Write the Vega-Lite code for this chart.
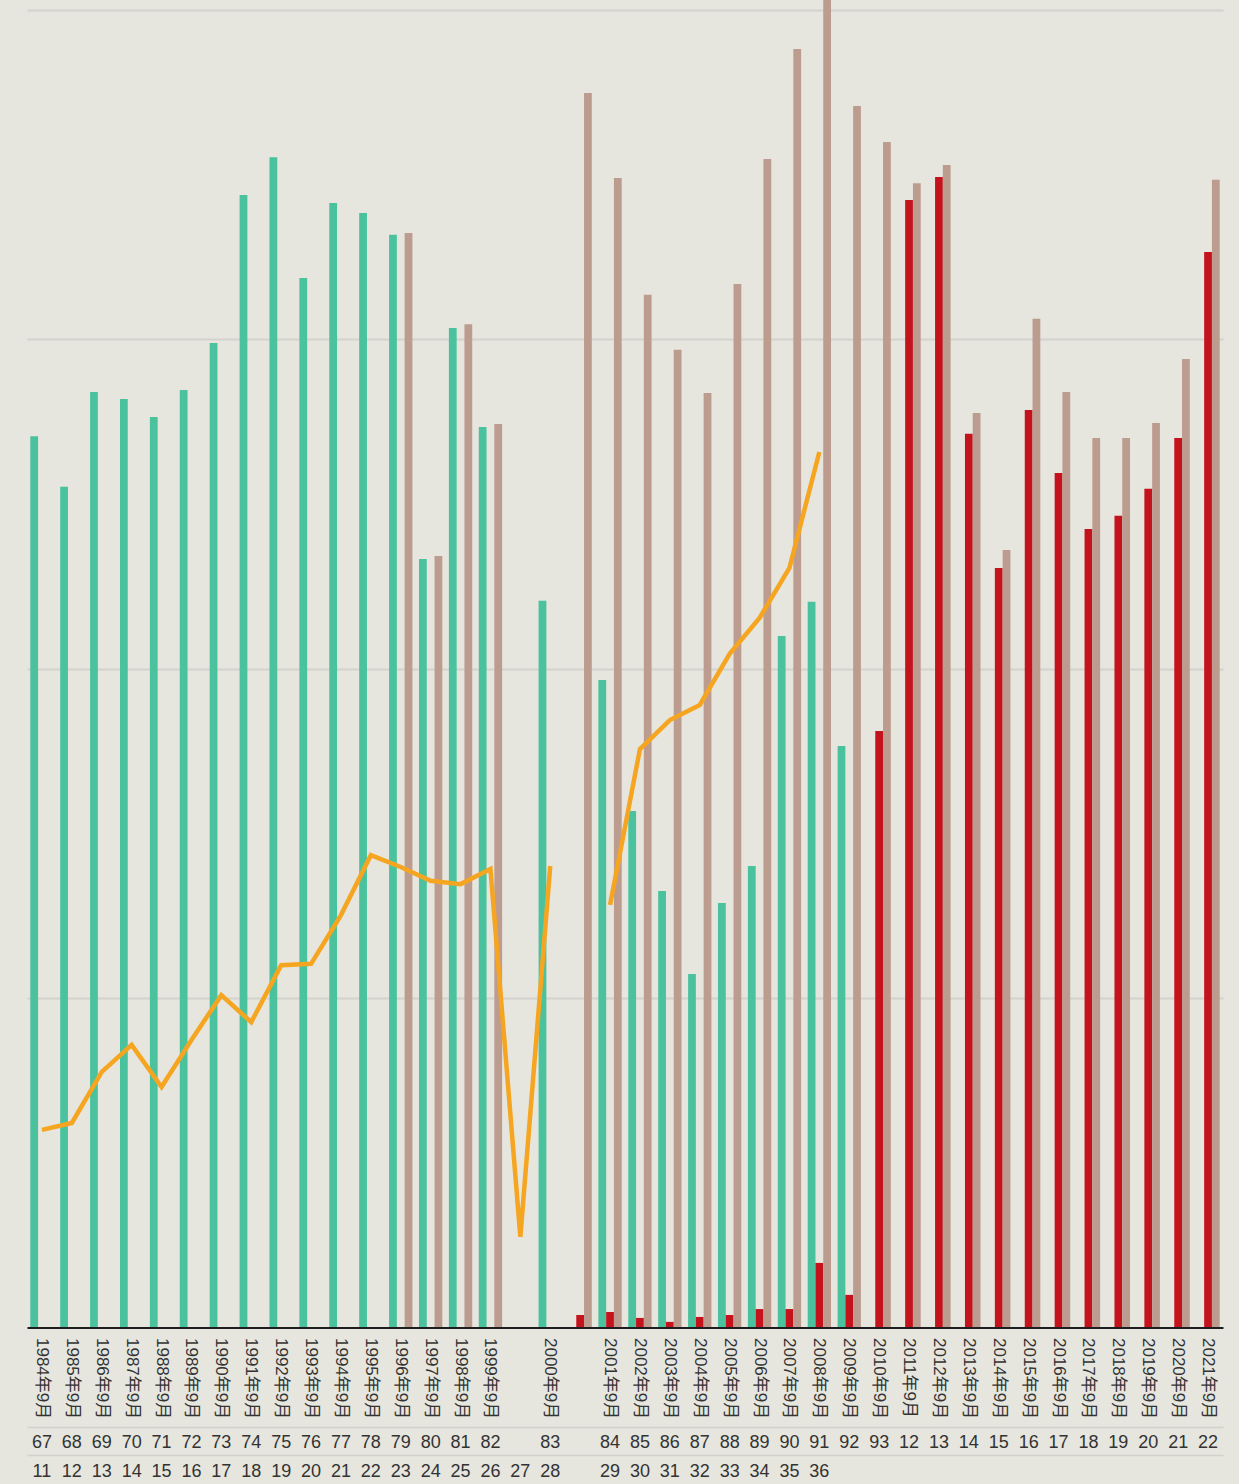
{
  "$schema": "https://vega.github.io/schema/vega-lite/v6.json",
  "width": 1196,
  "height": 1327.5,
  "autosize": {"type": "none"},
  "padding": {"left": 27, "top": 0, "right": 16, "bottom": 156.5},
  "background": "#e6e5de",
  "config": {
    "view": {"stroke": null},
    "font": "Liberation Sans, Noto Sans CJK JP, sans-serif",
    "axis": {"labelFont": "Liberation Sans, Noto Sans CJK JP, sans-serif"}
  },
  "datasets": {
    "bars": [
      {"key": "1984年9月|67|11", "series": "g", "v": 2.706},
      {"key": "1985年9月|68|12", "series": "g", "v": 2.552},
      {"key": "1986年9月|69|13", "series": "g", "v": 2.840},
      {"key": "1987年9月|70|14", "series": "g", "v": 2.819},
      {"key": "1988年9月|71|15", "series": "g", "v": 2.764},
      {"key": "1989年9月|72|16", "series": "g", "v": 2.846},
      {"key": "1990年9月|73|17", "series": "g", "v": 2.989},
      {"key": "1991年9月|74|18", "series": "g", "v": 3.438},
      {"key": "1992年9月|75|19", "series": "g", "v": 3.553},
      {"key": "1993年9月|76|20", "series": "g", "v": 3.186},
      {"key": "1994年9月|77|21", "series": "g", "v": 3.414},
      {"key": "1995年9月|78|22", "series": "g", "v": 3.383},
      {"key": "1996年9月|79|23", "series": "g", "v": 3.317},
      {"key": "1996年9月|79|23", "series": "b", "v": 3.323},
      {"key": "1997年9月|80|24", "series": "g", "v": 2.333},
      {"key": "1997年9月|80|24", "series": "b", "v": 2.342},
      {"key": "1998年9月|81|25", "series": "g", "v": 3.034},
      {"key": "1998年9月|81|25", "series": "b", "v": 3.046},
      {"key": "1999年9月|82|26", "series": "g", "v": 2.734},
      {"key": "1999年9月|82|26", "series": "b", "v": 2.743},
      {"key": "2000年9月|83|28", "series": "g", "v": 2.206},
      {"key": "||", "series": "r", "v": 0.038},
      {"key": "||", "series": "b", "v": 3.748},
      {"key": "2001年9月|84|29", "series": "g", "v": 1.966},
      {"key": "2001年9月|84|29", "series": "r", "v": 0.047},
      {"key": "2001年9月|84|29", "series": "b", "v": 3.490},
      {"key": "2002年9月|85|30", "series": "g", "v": 1.568},
      {"key": "2002年9月|85|30", "series": "r", "v": 0.029},
      {"key": "2002年9月|85|30", "series": "b", "v": 3.135},
      {"key": "2003年9月|86|31", "series": "g", "v": 1.325},
      {"key": "2003年9月|86|31", "series": "r", "v": 0.017},
      {"key": "2003年9月|86|31", "series": "b", "v": 2.968},
      {"key": "2004年9月|87|32", "series": "g", "v": 1.073},
      {"key": "2004年9月|87|32", "series": "r", "v": 0.032},
      {"key": "2004年9月|87|32", "series": "b", "v": 2.837},
      {"key": "2005年9月|88|33", "series": "g", "v": 1.289},
      {"key": "2005年9月|88|33", "series": "r", "v": 0.038},
      {"key": "2005年9月|88|33", "series": "b", "v": 3.168},
      {"key": "2006年9月|89|34", "series": "g", "v": 1.401},
      {"key": "2006年9月|89|34", "series": "r", "v": 0.056},
      {"key": "2006年9月|89|34", "series": "b", "v": 3.547},
      {"key": "2007年9月|90|35", "series": "g", "v": 2.099},
      {"key": "2007年9月|90|35", "series": "r", "v": 0.056},
      {"key": "2007年9月|90|35", "series": "b", "v": 3.881},
      {"key": "2008年9月|91|36", "series": "g", "v": 2.203},
      {"key": "2008年9月|91|36", "series": "r", "v": 0.196},
      {"key": "2008年9月|91|36", "series": "b", "v": 4.100},
      {"key": "2009年9月|92|", "series": "g", "v": 1.765},
      {"key": "2009年9月|92|", "series": "r", "v": 0.099},
      {"key": "2009年9月|92|", "series": "b", "v": 3.708},
      {"key": "2010年9月|93|", "series": "r", "v": 1.811},
      {"key": "2010年9月|93|", "series": "b", "v": 3.599},
      {"key": "2011年9月|12|", "series": "r", "v": 3.423},
      {"key": "2011年9月|12|", "series": "b", "v": 3.474},
      {"key": "2012年9月|13|", "series": "r", "v": 3.493},
      {"key": "2012年9月|13|", "series": "b", "v": 3.529},
      {"key": "2013年9月|14|", "series": "r", "v": 2.713},
      {"key": "2013年9月|14|", "series": "b", "v": 2.776},
      {"key": "2014年9月|15|", "series": "r", "v": 2.306},
      {"key": "2014年9月|15|", "series": "b", "v": 2.360},
      {"key": "2015年9月|16|", "series": "r", "v": 2.785},
      {"key": "2015年9月|16|", "series": "b", "v": 3.062},
      {"key": "2016年9月|17|", "series": "r", "v": 2.594},
      {"key": "2016年9月|17|", "series": "b", "v": 2.840},
      {"key": "2017年9月|18|", "series": "r", "v": 2.424},
      {"key": "2017年9月|18|", "series": "b", "v": 2.700},
      {"key": "2018年9月|19|", "series": "r", "v": 2.464},
      {"key": "2018年9月|19|", "series": "b", "v": 2.700},
      {"key": "2019年9月|20|", "series": "r", "v": 2.546},
      {"key": "2019年9月|20|", "series": "b", "v": 2.746},
      {"key": "2020年9月|21|", "series": "r", "v": 2.700},
      {"key": "2020年9月|21|", "series": "b", "v": 2.940},
      {"key": "2021年9月|22|", "series": "r", "v": 3.265},
      {"key": "2021年9月|22|", "series": "b", "v": 3.484}
    ],
    "lineA": [
      {"key": "1984年9月|67|11", "v": 0.600},
      {"key": "1985年9月|68|12", "v": 0.621},
      {"key": "1986年9月|69|13", "v": 0.776},
      {"key": "1987年9月|70|14", "v": 0.858},
      {"key": "1988年9月|71|15", "v": 0.730},
      {"key": "1989年9月|72|16", "v": 0.873},
      {"key": "1990年9月|73|17", "v": 1.009},
      {"key": "1991年9月|74|18", "v": 0.927},
      {"key": "1992年9月|75|19", "v": 1.100},
      {"key": "1993年9月|76|20", "v": 1.104},
      {"key": "1994年9月|77|21", "v": 1.252},
      {"key": "1995年9月|78|22", "v": 1.434},
      {"key": "1996年9月|79|23", "v": 1.398},
      {"key": "1997年9月|80|24", "v": 1.356},
      {"key": "1998年9月|81|25", "v": 1.346},
      {"key": "1999年9月|82|26", "v": 1.392},
      {"key": "||27", "v": 0.275},
      {"key": "2000年9月|83|28", "v": 1.401}
    ],
    "lineB": [
      {"key": "2001年9月|84|29", "v": 1.283},
      {"key": "2002年9月|85|30", "v": 1.756},
      {"key": "2003年9月|86|31", "v": 1.844},
      {"key": "2004年9月|87|32", "v": 1.890},
      {"key": "2005年9月|88|33", "v": 2.045},
      {"key": "2006年9月|89|34", "v": 2.154},
      {"key": "2007年9月|90|35", "v": 2.306},
      {"key": "2008年9月|91|36", "v": 2.658}
    ]
  },
  "resolve": {"axis": {"x": "independent"}},
  "encoding": {
    "y": {
      "field": "v",
      "type": "quantitative",
      "scale": {"domain": [0, 4.03], "nice": false, "zero": true},
      "axis": {
        "title": null,
        "labels": false,
        "ticks": false,
        "domain": false,
        "values": [1, 2, 3, 4],
        "grid": true,
        "gridColor": "#d3d2cd",
        "gridWidth": 2,
        "zindex": 0
      }
    }
  },
  "layer": [
    {
      "data": {"name": "bars"},
      "mark": {"type": "bar"},
      "encoding": {
        "x": {
          "field": "key",
          "type": "nominal",
          "scale": {
            "domain": ["1984年9月|67|11", "1985年9月|68|12", "1986年9月|69|13", "1987年9月|70|14", "1988年9月|71|15", "1989年9月|72|16", "1990年9月|73|17", "1991年9月|74|18", "1992年9月|75|19", "1993年9月|76|20", "1994年9月|77|21", "1995年9月|78|22", "1996年9月|79|23", "1997年9月|80|24", "1998年9月|81|25", "1999年9月|82|26", "||27", "2000年9月|83|28", "||", "2001年9月|84|29", "2002年9月|85|30", "2003年9月|86|31", "2004年9月|87|32", "2005年9月|88|33", "2006年9月|89|34", "2007年9月|90|35", "2008年9月|91|36", "2009年9月|92|", "2010年9月|93|", "2011年9月|12|", "2012年9月|13|", "2013年9月|14|", "2014年9月|15|", "2015年9月|16|", "2016年9月|17|", "2017年9月|18|", "2018年9月|19|", "2019年9月|20|", "2020年9月|21|", "2021年9月|22|"],
            "paddingInner": 0.22,
            "paddingOuter": 0.11
          },
          "axis": {
            "orient": "bottom",
            "title": null,
            "labelExpr": "split(datum.value, '|')[0]",
            "labelAngle": 90,
            "labelAlign": "left",
            "labelBaseline": "middle",
            "labelFontSize": 17,
            "labelColor": "#333333",
            "labelPadding": 10,
            "ticks": false,
            "tickSize": 0,
            "domainColor": "#1e1e1e",
            "domainWidth": 2,
            "labelOverlap": false,
            "labelBound": false,
            "grid": false,
            "zindex": 1
          }
        },
        "xOffset": {
          "field": "series",
          "type": "nominal",
          "scale": {"domain": ["g", "r", "b"], "paddingInner": 0, "paddingOuter": 0}
        },
        "color": {
          "field": "series",
          "type": "nominal",
          "scale": {"domain": ["g", "r", "b"], "range": ["#4ac29e", "#c4131d", "#bd9c90"]},
          "legend": null
        }
      }
    },
    {
      "data": {"name": "lineA"},
      "mark": {"type": "line", "color": "#f6a520", "strokeWidth": 4.5},
      "encoding": {
        "x": {
          "field": "key",
          "type": "nominal",
          "scale": {
            "domain": ["1984年9月|67|11", "1985年9月|68|12", "1986年9月|69|13", "1987年9月|70|14", "1988年9月|71|15", "1989年9月|72|16", "1990年9月|73|17", "1991年9月|74|18", "1992年9月|75|19", "1993年9月|76|20", "1994年9月|77|21", "1995年9月|78|22", "1996年9月|79|23", "1997年9月|80|24", "1998年9月|81|25", "1999年9月|82|26", "||27", "2000年9月|83|28", "||", "2001年9月|84|29", "2002年9月|85|30", "2003年9月|86|31", "2004年9月|87|32", "2005年9月|88|33", "2006年9月|89|34", "2007年9月|90|35", "2008年9月|91|36", "2009年9月|92|", "2010年9月|93|", "2011年9月|12|", "2012年9月|13|", "2013年9月|14|", "2014年9月|15|", "2015年9月|16|", "2016年9月|17|", "2017年9月|18|", "2018年9月|19|", "2019年9月|20|", "2020年9月|21|", "2021年9月|22|"],
            "paddingInner": 0.22,
            "paddingOuter": 0.11
          },
          "axis": {
            "orient": "bottom",
            "offset": 99.5,
            "title": null,
            "labelExpr": "split(datum.value, '|')[1]",
            "labelAngle": 0,
            "labelAlign": "center",
            "labelBaseline": "middle",
            "labelFontSize": 18,
            "labelColor": "#333333",
            "labelPadding": 15,
            "ticks": false,
            "tickSize": 0,
            "domainColor": "#d3d1cb",
            "domainWidth": 1.5,
            "labelOverlap": false,
            "labelBound": false,
            "grid": false
          }
        }
      }
    },
    {
      "data": {"name": "lineB"},
      "mark": {"type": "line", "color": "#f6a520", "strokeWidth": 4.5},
      "encoding": {
        "x": {
          "field": "key",
          "type": "nominal",
          "scale": {
            "domain": ["1984年9月|67|11", "1985年9月|68|12", "1986年9月|69|13", "1987年9月|70|14", "1988年9月|71|15", "1989年9月|72|16", "1990年9月|73|17", "1991年9月|74|18", "1992年9月|75|19", "1993年9月|76|20", "1994年9月|77|21", "1995年9月|78|22", "1996年9月|79|23", "1997年9月|80|24", "1998年9月|81|25", "1999年9月|82|26", "||27", "2000年9月|83|28", "||", "2001年9月|84|29", "2002年9月|85|30", "2003年9月|86|31", "2004年9月|87|32", "2005年9月|88|33", "2006年9月|89|34", "2007年9月|90|35", "2008年9月|91|36", "2009年9月|92|", "2010年9月|93|", "2011年9月|12|", "2012年9月|13|", "2013年9月|14|", "2014年9月|15|", "2015年9月|16|", "2016年9月|17|", "2017年9月|18|", "2018年9月|19|", "2019年9月|20|", "2020年9月|21|", "2021年9月|22|"],
            "paddingInner": 0.22,
            "paddingOuter": 0.11
          },
          "axis": {
            "orient": "bottom",
            "offset": 127.5,
            "title": null,
            "labelExpr": "split(datum.value, '|')[2]",
            "labelAngle": 0,
            "labelAlign": "center",
            "labelBaseline": "middle",
            "labelFontSize": 18,
            "labelColor": "#333333",
            "labelPadding": 16,
            "ticks": false,
            "tickSize": 0,
            "domainColor": "#d3d1cb",
            "domainWidth": 1.5,
            "labelOverlap": false,
            "labelBound": false,
            "grid": false
          }
        }
      }
    }
  ]
}
